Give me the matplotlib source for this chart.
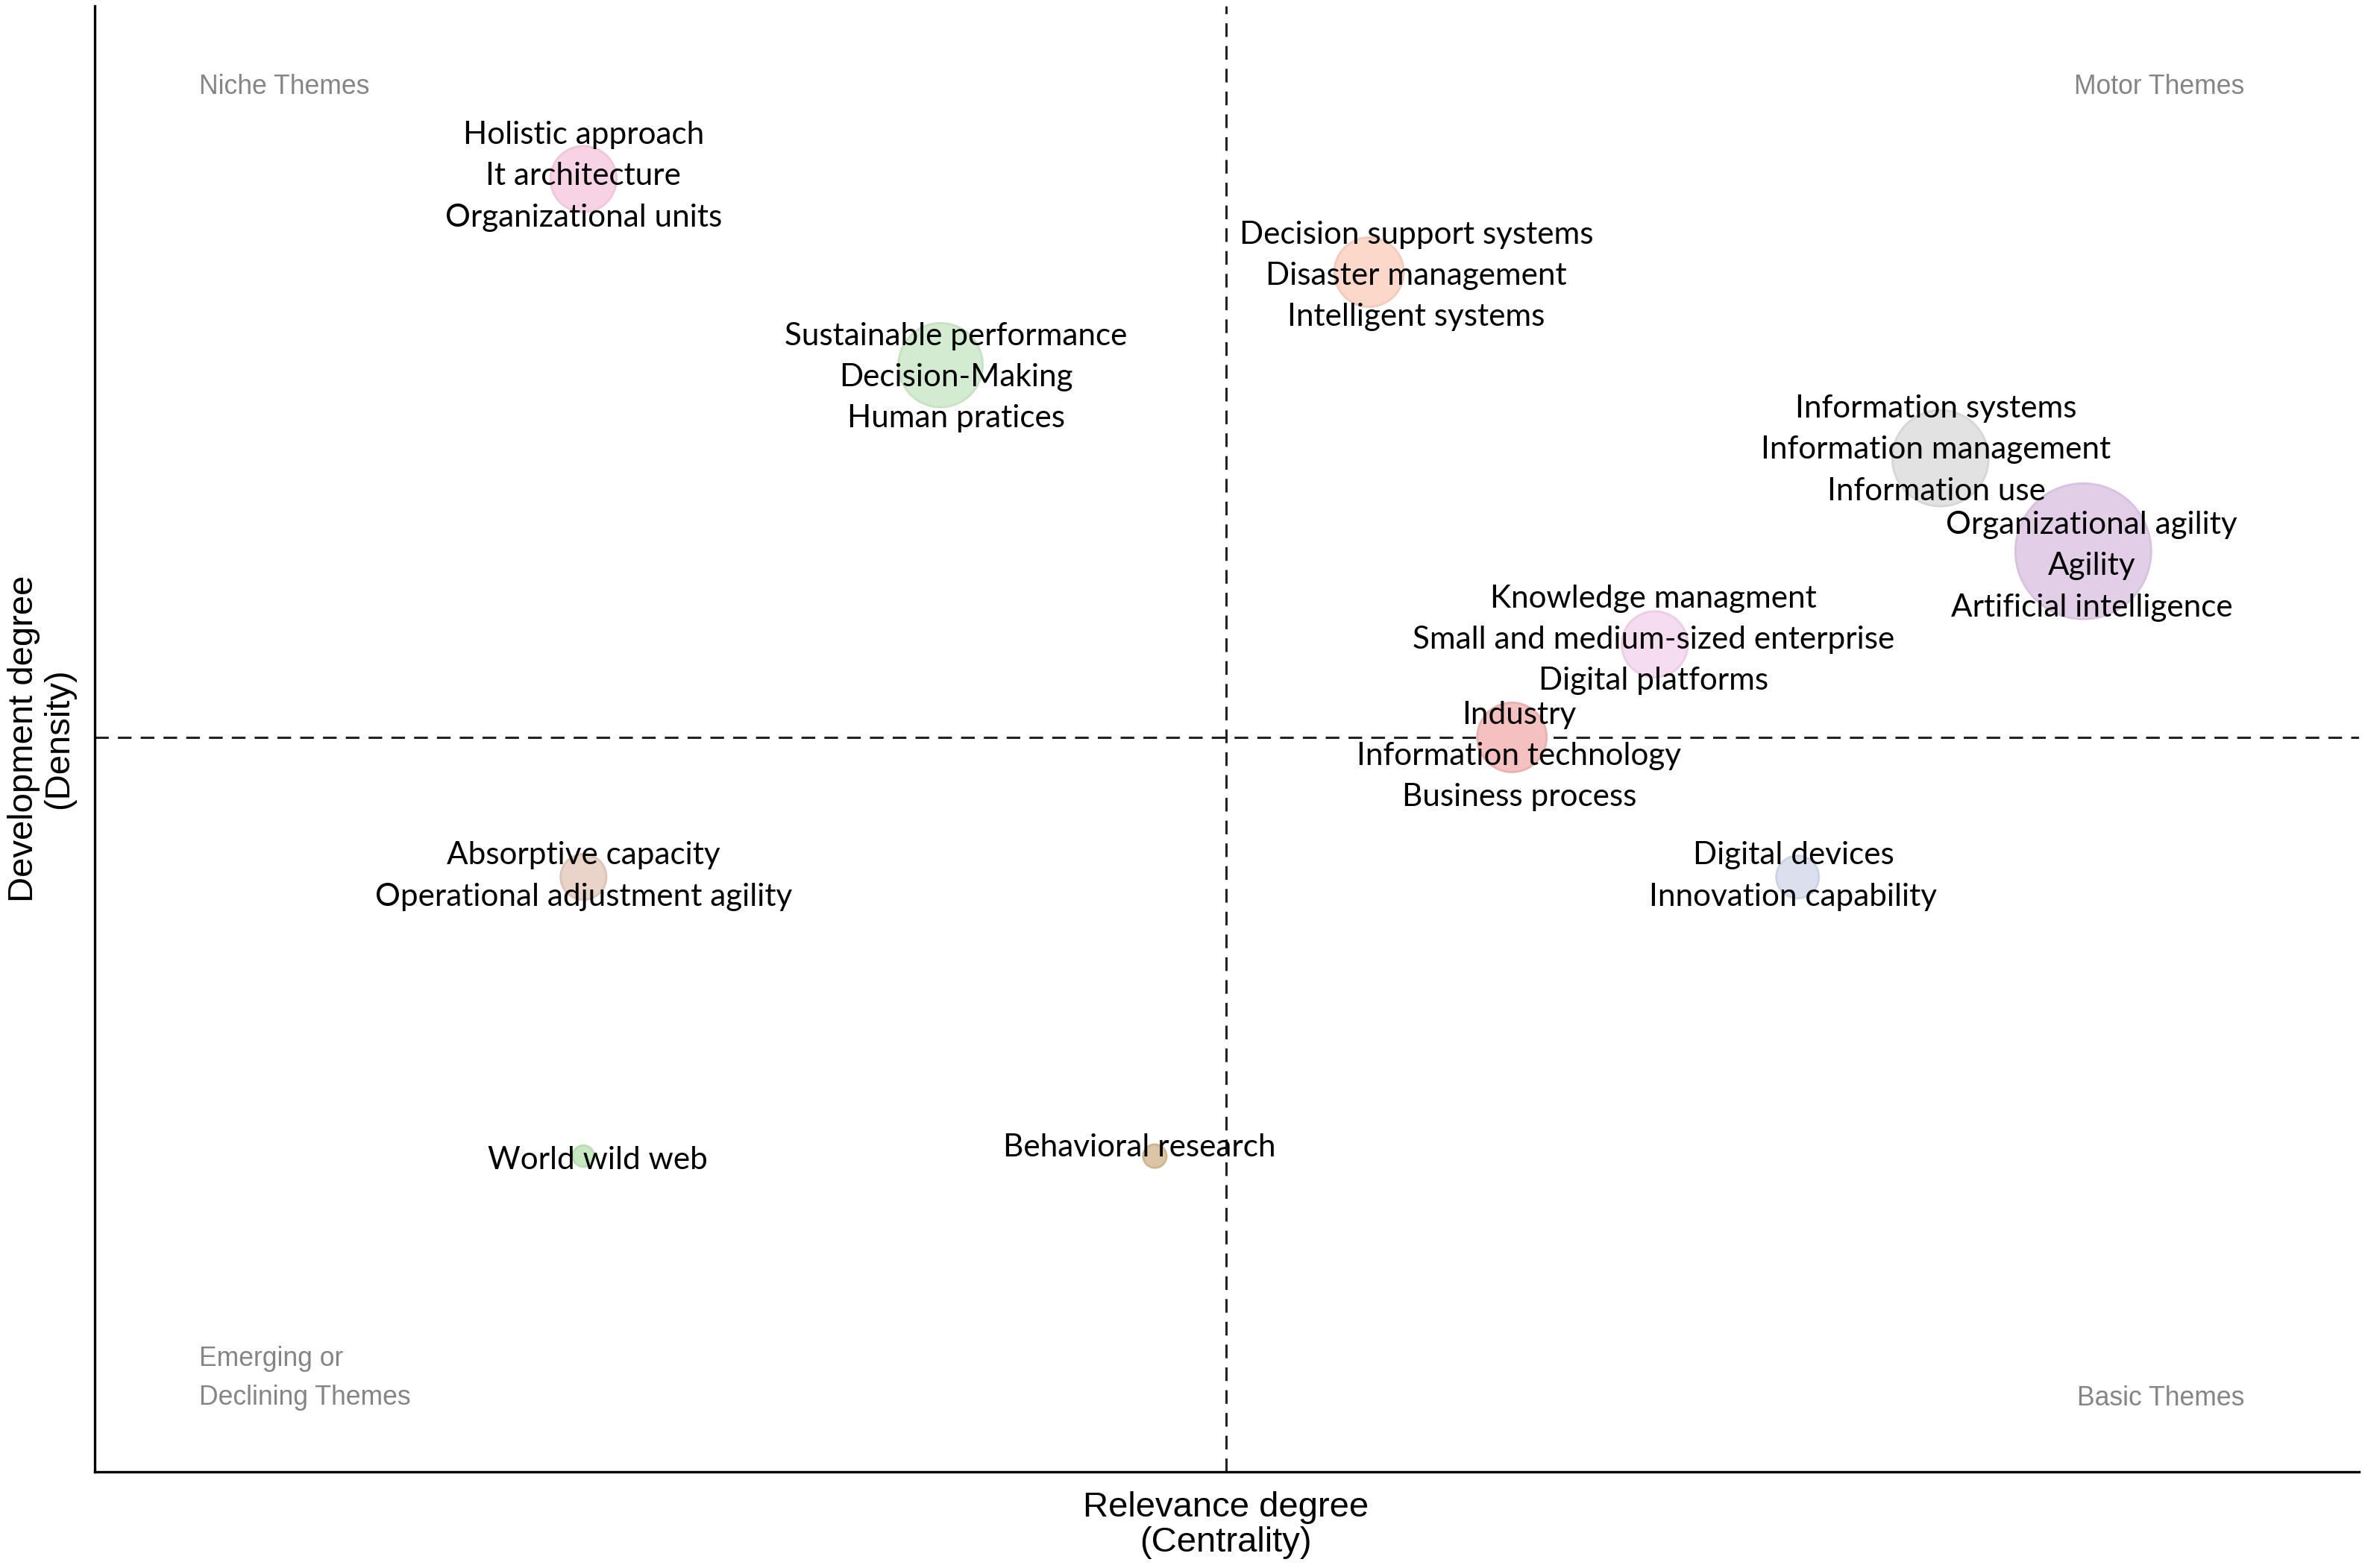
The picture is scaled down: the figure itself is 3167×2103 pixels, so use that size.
import numpy as np
import matplotlib.pyplot as plt
from matplotlib.transforms import offset_copy

# cluster data (centrality rank, density rank, size)
labels = [
    "Holistic approach\nIt architecture\nOrganizational units",
    "Decision support systems\nDisaster management\nIntelligent systems",
    "Sustainable performance\nDecision-Making\nHuman pratices",
    "Information systems\nInformation management\nInformation use",
    "Organizational agility\nAgility\nArtificial intelligence",
    "Knowledge managment\nSmall and medium-sized enterprise\nDigital platforms",
    "Industry\nInformation technology\nBusiness process",
    "Digital devices\nInnovation capability",
    "Absorptive capacity\nOperational adjustment agility",
    "World wild web",
    "Behavioral research",
]
centrality = [2.0, 7.5, 4.5, 11.5, 12.5, 9.5, 8.5, 10.5, 2.0, 2.0, 6.0]
density = [12.0, 11.0, 10.0, 9.0, 8.0, 7.0, 6.0, 4.5, 4.5, 1.5, 1.5]
freq = [48, 53, 78, 102, 203, 48, 53, 20, 23, 5, 6]
label_x = [2.0, 7.83, 4.61, 11.47, 12.56, 9.49, 8.55, 10.47, 2.0, 2.1, 5.89]
label_y = [12.07, 11.0, 9.91, 9.13, 7.88, 7.09, 5.84, 4.55, 4.55, 1.5, 1.63]
colors = ["#F7D3E5", "#FBD8CA", "#D3EBD1", "#E2E2E2", "#E2CFE7", "#F6DCF0",
          "#F4C0C0", "#DCE0EE", "#EAD3C8", "#C8E7C3", "#DCC4A6"]
edges = ["#EFC6DA", "#F4CBBB", "#C6E2C3", "#D6D6D6", "#D8C2DF", "#EDCDE6",
         "#EBB0B0", "#CDD2E5", "#E0C3B6", "#B8DFB2", "#CFB592"]

quad_text = ["Niche Themes", "Motor Themes", "Emerging or\nDeclining Themes", "Basic Themes"]

fig = plt.figure(figsize=(15.835, 10.515), dpi=200)
ax = fig.add_axes([0.0402, 0.0615, 0.9585, 0.9347])

ax.scatter(centrality, density, s=np.array(freq) * 21.15, c=colors,
           edgecolors=edges, linewidths=1.0, zorder=2)

lab_trans = offset_copy(ax.transData, fig=fig, x=0, y=-1.8, units="points")
for lx, ly, t in zip(label_x, label_y, labels):
    ax.text(lx, ly, t, ha="center", va="center", fontsize=15.2,
            family="Lato", linespacing=1.56, zorder=3, transform=lab_trans)

ax.axvline(6.5, color="#222222", lw=1.1, ls=(0, (6, 4)), zorder=1)
ax.axhline(6.0, color="#222222", lw=1.1, ls=(0, (6, 4)), zorder=1)

ax.set_xlim(-1.42, 14.43)
ax.set_ylim(-1.89, 13.86)
ax.set_xticks([])
ax.set_yticks([])
for s in ["top", "right"]:
    ax.spines[s].set_visible(False)
for s in ["left", "bottom"]:
    ax.spines[s].set_linewidth(1.2)

gray = "#858585"
qfont = dict(fontsize=12.8, color=gray, family="Liberation Sans", transform=ax.transAxes)
ax.text(0.0459, 0.9446, quad_text[0], ha="left", va="center", **qfont)
ax.text(0.9494, 0.9446, quad_text[1], ha="right", va="center", **qfont)
ax.text(0.0459, 0.0637, quad_text[2], ha="left", va="center", linespacing=1.65, **qfont)
ax.text(0.9494, 0.0500, quad_text[3], ha="right", va="center", **qfont)

fig.text(0.519, 0.0275, "Relevance degree\n(Centrality)", ha="center", va="center",
         fontsize=17, family="Liberation Sans", linespacing=1.08)
fig.text(0.0175, 0.529, "Development degree\n(Density)", ha="center", va="center",
         rotation=90, fontsize=17, family="Liberation Sans", linespacing=1.08)

fig.savefig("out.png", dpi=200)
